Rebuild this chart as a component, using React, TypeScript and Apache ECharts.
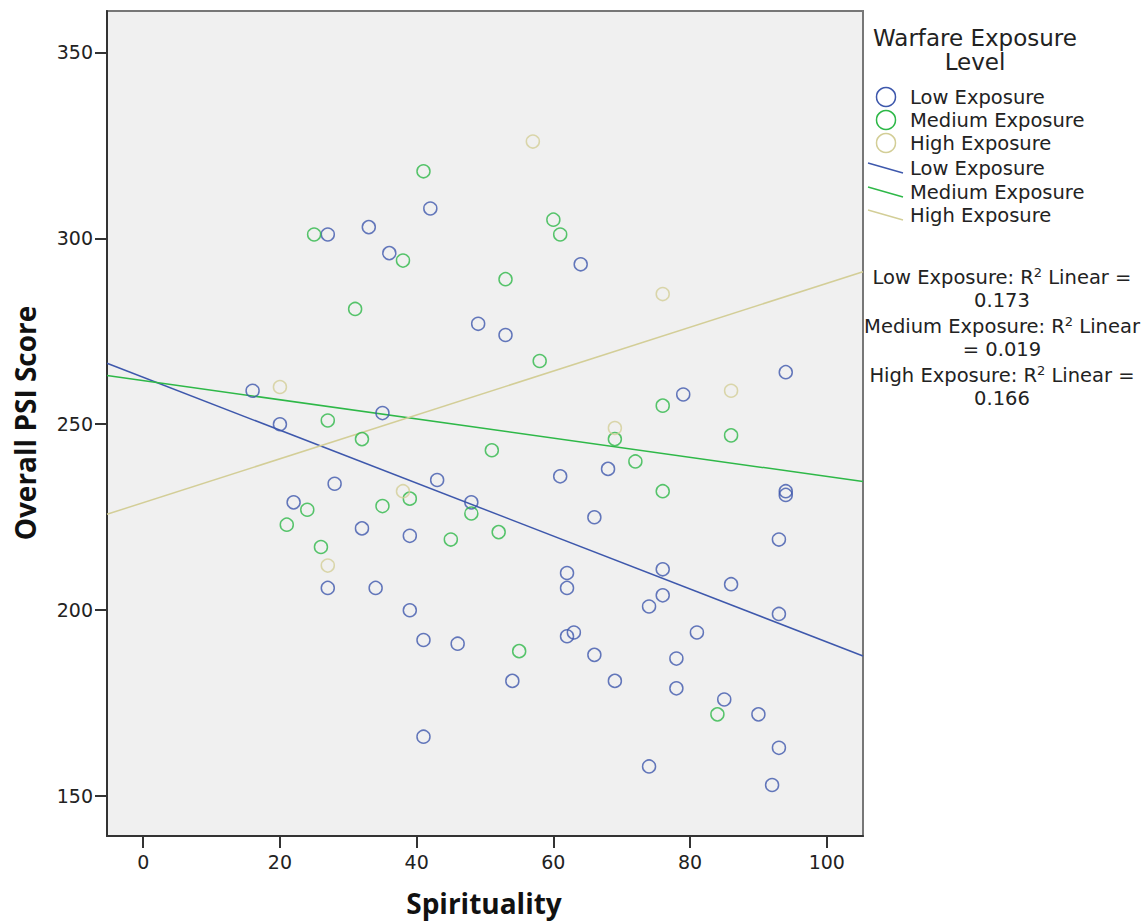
import React, { useEffect, useRef } from "react";
import * as echarts from "echarts";

// Spirituality (x) vs Overall PSI Score (y)
const lowExposure: number[][] = [
  [16, 259], [20, 250], [22, 229], [27, 301], [28, 234], [27, 206], [32, 222], [33, 303],
  [34, 206], [35, 253], [36, 296], [39, 220], [39, 200], [41, 192], [41, 166], [42, 308],
  [43, 235], [46, 191], [48, 229], [49, 277], [53, 274], [54, 181], [61, 236], [62, 210],
  [62, 206], [62, 193], [63, 194], [64, 293], [66, 225], [66, 188], [68, 238], [69, 181],
  [74, 201], [74, 158], [76, 211], [76, 204], [78, 187], [78, 179], [79, 258], [81, 194],
  [85, 176], [86, 207], [90, 172], [92, 153], [93, 219], [93, 199], [93, 163], [94, 264],
  [94, 232], [94, 231],
];
const mediumExposure: number[][] = [
  [21, 223], [24, 227], [25, 301], [26, 217], [27, 251], [31, 281], [32, 246], [35, 228],
  [38, 294], [39, 230], [41, 318], [45, 219], [48, 226], [51, 243], [52, 221], [53, 289],
  [55, 189], [58, 267], [60, 305], [61, 301], [69, 246], [72, 240], [76, 255], [76, 232],
  [84, 172], [86, 247],
];
const highExposure: number[][] = [
  [20, 260], [27, 212], [38, 232], [57, 326], [69, 249], [76, 285], [86, 259],
];

const xTicks = [0, 20, 40, 60, 80, 100];
const yTicks = [150, 200, 250, 300, 350];
const xRange = [-5.3, 105.3];
const yRange = [139.3, 361.1];

// fit line values at the two ends of xRange
const lowFit = [266.4, 187.7];
const mediumFit = [263.1, 234.6];
const highFit = [225.8, 291.0];

const groupNames = ["Low Exposure", "Medium Exposure", "High Exposure"];
const groupColors = ["#3E58AC", "#2EB848", "#D3CE97"];
const r2Values = ["0.173", "0.019", "0.166"];

export default function App() {
  const ref = useRef<HTMLDivElement>(null);

  useEffect(() => {
    if (!ref.current) return;
    const chart = echarts.init(ref.current, undefined, { renderer: "svg" });

    const scatterData = [lowExposure, mediumExposure, highExposure];
    const fits = [lowFit, mediumFit, highFit];

    const series: any[] = [];
    scatterData.forEach((d, i) => {
      series.push({
        name: groupNames[i],
        type: "scatter",
        data: d,
        symbol: "circle",
        symbolSize: 13,
        itemStyle: { color: "rgba(0,0,0,0)", borderColor: groupColors[i], borderWidth: 1.5 },
        z: 3,
      });
    });
    fits.forEach((f, i) => {
      series.push({
        name: groupNames[i] + " fit",
        type: "line",
        data: [[xRange[0], f[0]], [xRange[1], f[1]]],
        symbol: "none",
        lineStyle: { color: groupColors[i], width: 1.5 },
        z: 2,
      });
    });

    const legendFont = '19.5px "DejaVu Sans"';
    const graphic: any[] = [];
    // legend title
    graphic.push({
      type: "text",
      x: 975,
      y: 38,
      style: { text: "Warfare Exposure", font: '23px "DejaVu Sans"', fill: "#222", align: "center", verticalAlign: "middle" },
    });
    graphic.push({
      type: "text",
      x: 975,
      y: 62,
      style: { text: "Level", font: '23px "DejaVu Sans"', fill: "#222", align: "center", verticalAlign: "middle" },
    });
    const markerY = [97, 120, 143];
    const lineY = [168, 192, 215];
    groupNames.forEach((n, i) => {
      graphic.push({
        type: "circle",
        shape: { cx: 886, cy: markerY[i], r: 9.5 },
        style: { fill: "none", stroke: groupColors[i], lineWidth: 1.5 },
      });
      graphic.push({
        type: "text",
        x: 910,
        y: markerY[i],
        style: { text: n, font: legendFont, fill: "#222", align: "left", verticalAlign: "middle" },
      });
      graphic.push({
        type: "line",
        shape: { x1: 868, y1: lineY[i] - 5, x2: 903, y2: lineY[i] + 5 },
        style: { stroke: groupColors[i], lineWidth: 1.5 },
      });
      graphic.push({
        type: "text",
        x: 910,
        y: lineY[i],
        style: { text: n, font: legendFont, fill: "#222", align: "left", verticalAlign: "middle" },
      });
    });
    // R squared notes
    const r2Lines = [
      ["Low Exposure: R{s|2} Linear =", r2Values[0]],
      ["Medium Exposure: R{s|2} Linear", "= " + r2Values[1]],
      ["High Exposure: R{s|2} Linear =", r2Values[2]],
    ];
    const r2Y = [277, 300, 326, 349, 375, 398];
    r2Lines.forEach((pair, i) => {
      pair.forEach((t, j) => {
        graphic.push({
          type: "text",
          x: 1002,
          y: r2Y[i * 2 + j],
          style: {
            text: t,
            font: '19.5px "DejaVu Sans"',
            fill: "#222",
            align: "center",
            verticalAlign: "middle",
            rich: { s: { font: '13px "DejaVu Sans"', fill: "#222", padding: [0, 0, 10, 0] } },
          },
        });
      });
    });
    // axis titles
    graphic.push({
      type: "text",
      x: 25,
      y: 423,
      rotation: Math.PI / 2,
      style: { text: "Overall PSI Score", font: 'bold 28px "Open Sans"', fill: "#111", align: "center", verticalAlign: "middle" },
    });
    graphic.push({
      type: "text",
      x: 484,
      y: 903,
      style: { text: "Spirituality", font: 'bold 28px "Open Sans"', fill: "#111", align: "center", verticalAlign: "middle" },
    });

    chart.setOption({
      animation: false,
      backgroundColor: "#ffffff",
      grid: {
        left: 107,
        top: 11,
        width: 756,
        height: 825,
        show: true,
        backgroundColor: "#F0F0F0",
        borderColor: "#777777",
        borderWidth: 2,
      },
      xAxis: {
        type: "value",
        min: xRange[0],
        max: xRange[1],
        splitLine: { show: false },
        axisLine: { show: true, onZero: false, lineStyle: { color: "#333", width: 2 } },
        axisTick: { show: true, length: 12, customValues: xTicks, lineStyle: { color: "#333", width: 2 } },
        axisLabel: {
          customValues: xTicks,
          margin: 16,
          color: "#222",
          fontFamily: "DejaVu Sans",
          fontSize: 19,
        },
      },
      yAxis: {
        type: "value",
        min: yRange[0],
        max: yRange[1],
        splitLine: { show: false },
        axisLine: { show: true, onZero: false, lineStyle: { color: "#333", width: 2 } },
        axisTick: { show: true, length: 12, customValues: yTicks, lineStyle: { color: "#333", width: 2 } },
        axisLabel: {
          customValues: yTicks,
          margin: 14,
          color: "#222",
          fontFamily: "DejaVu Sans",
          fontSize: 19,
        },
      },
      series,
      graphic,
    });

    return () => chart.dispose();
  }, []);

  return (
    <div
      ref={ref}
      style={{ position: "absolute", left: 0, top: 0, width: 1148, height: 922 }}
    />
  );
}
